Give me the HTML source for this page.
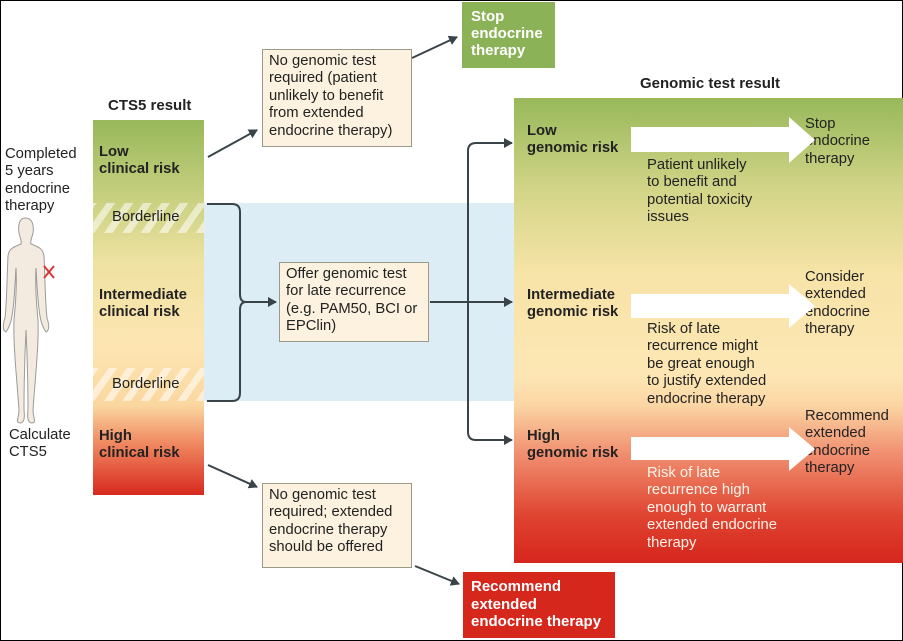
<!DOCTYPE html>
<html><head><meta charset="utf-8"><style>
body{margin:0;width:903px;height:641px;overflow:hidden;background:#fff;font-family:"Liberation Sans",sans-serif;}
.a{position:absolute;}
.t{position:absolute;font-size:14.8px;line-height:17.4px;color:#222;}
.b{font-weight:bold;}
.box{position:absolute;background:#fdf2df;border:1px solid #9a9a8a;box-sizing:border-box;padding:3px 6px;font-size:14.8px;line-height:17.4px;color:#222;}
.stripe{position:absolute;background:repeating-linear-gradient(-55deg,rgba(255,255,255,.55) 0 7px,transparent 7px 15px);}
</style></head><body>
<div class="a" style="left:0;top:0;width:901px;height:639px;border:1px solid #000;"></div>
<div class="a" style="left:204px;top:203px;width:311px;height:198px;background:#dcedf5;"></div>
<div class="a" style="left:93px;top:120px;width:111px;height:375px;background:linear-gradient(#97b85a 0%,#c6cf7e 20%,#efe2a2 38%,#fde5b2 60%,#fbd7a0 76%,#f08a62 86%,#d8291f 100%);"></div>
<div class="stripe" style="left:93px;top:203px;width:111px;height:30px;"></div>
<div class="stripe" style="left:93px;top:368px;width:111px;height:33px;"></div>
<div class="a" style="left:514px;top:98px;width:389px;height:465px;background:linear-gradient(#97b85a 0%,#d3d588 20%,#f7e4a8 38%,#fde6b4 60%,#fbd6a4 66%,#f19272 76%,#df4330 90%,#d6261d 100%);"></div>

<div class="t b" style="left:108px;top:97px;font-size:15px">CTS5 result</div>
<div class="t b" style="left:640px;top:75px;font-size:15px">Genomic test result</div>
<div class="t" style="left:5px;top:146px">Completed<br>5 years<br>endocrine<br>therapy</div>
<div class="t" style="left:9px;top:427px">Calculate<br>CTS5</div>
<div class="t b" style="left:99px;top:144px">Low<br>clinical risk</div>
<div class="t" style="left:112px;top:209px">Borderline</div>
<div class="t b" style="left:99px;top:287px">Intermediate<br>clinical risk</div>
<div class="t" style="left:112px;top:376px">Borderline</div>
<div class="t b" style="left:99px;top:428px">High<br>clinical risk</div>

<div class="box" style="left:262px;top:49px;width:150px;height:98px">No genomic test required (patient unlikely to benefit from extended endocrine therapy)</div>
<div class="box" style="left:279px;top:262px;width:150px;height:80px">Offer genomic test for late recurrence (e.g. PAM50, BCI or EPClin)</div>
<div class="box" style="left:262px;top:483px;width:150px;height:85px">No genomic test required; extended endocrine therapy should be offered</div>
<div class="box b" style="left:462px;top:2px;width:93px;height:66px;background:#8cb257;border:none;color:#fff;padding:6px 9px;font-size:15px;line-height:17px">Stop endocrine therapy</div>
<div class="box b" style="left:463px;top:572px;width:152px;height:66px;background:#d6271d;border:none;color:#fff;padding:6px 8px;font-size:15px;line-height:17.5px">Recommend extended endocrine therapy</div>

<div class="t b" style="left:527px;top:123px">Low<br>genomic risk</div>
<div class="t b" style="left:527px;top:287px">Intermediate<br>genomic risk</div>
<div class="t b" style="left:527px;top:428px">High<br>genomic risk</div>
<div class="t" style="left:647px;top:157px">Patient unlikely<br>to benefit and<br>potential toxicity<br>issues</div>
<div class="t" style="left:647px;top:321px">Risk of late<br>recurrence might<br>be great enough<br>to justify extended<br>endocrine therapy</div>
<div class="t" style="left:647px;top:465px;color:#fff4ea">Risk of late<br>recurrence high<br>enough to warrant<br>extended endocrine<br>therapy</div>
<div class="t" style="left:805px;top:116px">Stop<br>endocrine<br>therapy</div>
<div class="t" style="left:805px;top:269px">Consider<br>extended<br>endocrine<br>therapy</div>
<div class="t" style="left:805px;top:408px">Recommend<br>extended<br>endocrine<br>therapy</div>

<svg class="a" style="left:0;top:0" width="903" height="641">
<defs><marker id="m" markerWidth="10" markerHeight="10" refX="8" refY="5" orient="auto" markerUnits="userSpaceOnUse"><path d="M0,0 L9,5 L0,10 Z" fill="#3a4448"/></marker></defs>
<g stroke="#3a4448" stroke-width="2" fill="none">
<line x1="208" y1="157" x2="257" y2="130" marker-end="url(#m)"/>
<line x1="412" y1="58" x2="457" y2="37" marker-end="url(#m)"/>
<line x1="208" y1="465" x2="257" y2="487" marker-end="url(#m)"/>
<line x1="415" y1="566" x2="459" y2="584" marker-end="url(#m)"/>
<path d="M207,204 H232 Q240,204 240,212 V294 Q240,302 246,302 Q240,302 240,310 V393 Q240,401 232,401 H207"/>
<line x1="244" y1="302" x2="276" y2="302" marker-end="url(#m)"/>
<line x1="430" y1="302" x2="512" y2="302" marker-end="url(#m)"/>
<path d="M512,143 H476 Q468,143 468,151 V432 Q468,440 476,440 H512"/>
</g>
<g fill="#3a4448"><path d="M504,138 L513,143 L504,148Z"/><path d="M504,435 L513,440 L504,445Z"/></g>
<g fill="#fff">
<path d="M631,127 H789 V117 L815,140 L789,163 V152 H631Z"/>
<path d="M631,294 H789 V284 L815,306 L789,328 V318 H631Z"/>
<path d="M631,437 H789 V427 L815,449 L789,471 V460 H631Z"/>
</g>
<g fill="#f4ebe0" stroke="#9a9a9a" stroke-width="1">
<path d="M25,218 C19,218 18,226 19,233 C20,238 22,240 21,244 C14,247 9,248 8,256 C7,275 7,300 5,318 C3,324 2,330 6,332 C9,328 11,322 12,316 C15,298 15,280 16,268 C17,285 16,300 14,320 C13,345 17,380 19,410 C19,418 15,422 20,423 C24,423 25,418 24,410 C24,380 25,350 26,330 C27,350 28,380 28,410 C27,418 28,423 32,423 C37,422 33,418 33,410 C35,380 39,345 38,320 C36,300 35,285 36,268 C37,280 37,298 40,316 C41,322 43,328 46,332 C50,330 49,324 47,318 C45,300 45,275 44,256 C43,248 38,247 31,244 C30,240 32,238 33,233 C34,226 33,218 25,218Z"/>
</g>
<g stroke="#d33" stroke-width="2"><line x1="44" y1="266" x2="54" y2="278"/><line x1="54" y1="266" x2="44" y2="278"/></g>
</svg>
</body></html>
